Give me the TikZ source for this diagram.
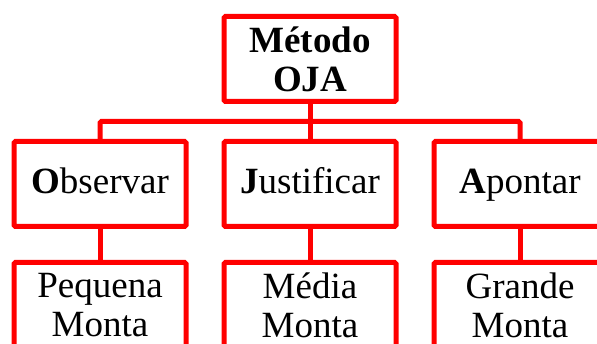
\documentclass[tikz,border=0pt]{standalone}
\usepackage{fontspec}
\setmainfont{Liberation Serif}
\usetikzlibrary{positioning,calc}

\begin{document}
\begin{tikzpicture}[x=1pt, y=-1pt,
		caixa/.style={draw=red, line width=5pt, rounded corners=1.5pt, outer sep=0pt, inner sep=0pt,
			minimum width=172pt, minimum height=85pt, align=center, font=\fontsize{37}{39}\selectfont},
		passo/.style={caixa, text height=27pt, text depth=8pt},
		ligacao/.style={draw=red, line width=5pt, rounded corners=1.5pt}]
	%%%%% START %%%%%
	
	\useasboundingbox (0, 0) rectangle (597, 344);
	
	\node[caixa] (metodo) at (310, 59) {\textbf{Método}\\\textbf{OJA}};
	
	\node[passo] (justificar) [below=40pt of metodo] {\textbf{J}ustificar};
	\node[passo] (observar) [left=38pt of justificar] {\textbf{O}bservar};
	\node[passo] (apontar) [right=38pt of justificar] {\textbf{A}pontar};
	
	\node[caixa] (pequena) [below=36pt of observar] {Pequena\\Monta};
	\node[caixa] (media) [below=36pt of justificar] {Média\\Monta};
	\node[caixa] (grande) [below=36pt of apontar] {Grande\\Monta};
	
	\coordinate (barra) at ($(metodo.south)!0.5!(justificar.north)$);
	\draw[ligacao] (metodo.south) -- (justificar.north);
	\draw[ligacao] (observar.north) |- (barra) -| (apontar.north);
	
	\draw[ligacao] (observar) -- (pequena);
	\draw[ligacao] (justificar) -- (media);
	\draw[ligacao] (apontar) -- (grande);
	
	%%%%% END %%%%%
\end{tikzpicture}
\end{document}
